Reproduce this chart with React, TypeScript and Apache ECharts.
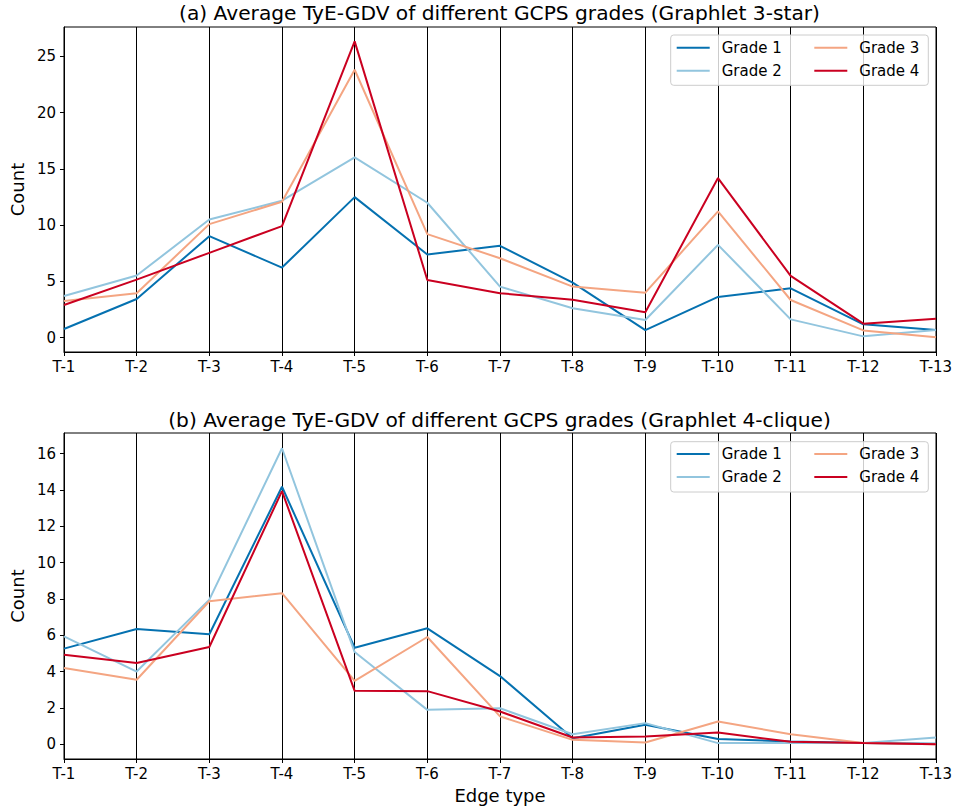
import React, { useEffect, useRef } from "react";
import * as echarts from "echarts";

const edgeTypes = ["T-1", "T-2", "T-3", "T-4", "T-5", "T-6", "T-7", "T-8", "T-9", "T-10", "T-11", "T-12", "T-13"];
const gradeNames = ["Grade 1", "Grade 2", "Grade 3", "Grade 4"];
const gradeColors = ["#0571b0", "#92c5de", "#f4a582", "#ca0020"];

// (a) Graphlet 3-star
const starGrade1 = [0.77, 3.44, 9.02, 6.23, 12.49, 7.39, 8.16, 4.9, 0.68, 3.62, 4.39, 1.19, 0.68];
const starGrade2 = [3.71, 5.52, 10.5, 12.17, 16.02, 11.99, 4.54, 2.61, 1.57, 8.25, 1.63, 0.12, 0.68];
const starGrade3 = [3.26, 3.95, 10.09, 12.08, 23.8, 9.2, 7.06, 4.54, 4.0, 11.22, 3.35, 0.65, 0.03];
const starGrade4 = [2.91, 5.16, 7.54, 9.91, 26.32, 5.13, 3.95, 3.38, 2.26, 14.18, 5.49, 1.25, 1.69];

// (b) Graphlet 4-clique
const cliqueGrade1 = [5.26, 6.34, 6.05, 14.17, 5.31, 6.38, 3.75, 0.33, 1.07, 0.29, 0.15, 0.06, 0.02];
const cliqueGrade2 = [5.94, 4.0, 7.96, 16.29, 5.07, 1.89, 1.98, 0.55, 1.16, 0.06, 0.06, 0.06, 0.37];
const cliqueGrade3 = [4.19, 3.55, 7.87, 8.31, 3.49, 5.9, 1.53, 0.24, 0.09, 1.25, 0.55, 0.06, 0.0];
const cliqueGrade4 = [4.93, 4.47, 5.35, 13.93, 2.94, 2.92, 1.8, 0.37, 0.42, 0.64, 0.13, 0.06, 0.0];

const starTicks = [0, 5, 10, 15, 20, 25];
const cliqueTicks = [0, 2, 4, 6, 8, 10, 12, 14, 16];

const titleA = "(a) Average TyE-GDV of different GCPS grades (Graphlet 3-star)";
const titleB = "(b) Average TyE-GDV of different GCPS grades (Graphlet 4-clique)";

const FONT = "DejaVu Sans";

export default function App() {
  const ref = useRef<HTMLDivElement>(null);
  useEffect(() => {
    if (!ref.current) return;
    const chart = echarts.init(ref.current, null, { renderer: "svg" });
    const starData = [starGrade1, starGrade2, starGrade3, starGrade4];
    const cliqueData = [cliqueGrade1, cliqueGrade2, cliqueGrade3, cliqueGrade4];

    const grids = [
      { left: 61, right: 22, top: 27, height: 325 },
      { left: 61, right: 22, top: 433, height: 326 },
    ];

    const makeX = (gi: number, withName: boolean) => ({
      type: "category",
      gridIndex: gi,
      data: edgeTypes,
      boundaryGap: false,
      axisLine: { show: true, onZero: false, lineStyle: { color: "#000", width: 1 } },
      axisTick: { show: true, length: 4, alignWithLabel: true, interval: 0, lineStyle: { color: "#000" } },
      axisLabel: { interval: 0, color: "#000", fontSize: 15, fontFamily: FONT, margin: 7 },
      splitLine: { show: true, interval: 0, lineStyle: { color: "#000", width: 1 } },
      name: withName ? "Edge type" : "",
      nameLocation: "middle",
      nameGap: 27,
      nameTextStyle: { color: "#000", fontSize: 18, fontFamily: FONT, verticalAlign: "top" },
    });

    const makeY = (gi: number, min: number, max: number, ticks: number[]) => ({
      type: "value",
      gridIndex: gi,
      min,
      max,
      axisLine: { show: true, onZero: false, lineStyle: { color: "#000", width: 1 } },
      axisTick: { show: true, length: 4, customValues: ticks, lineStyle: { color: "#000" } },
      axisLabel: { color: "#000", fontSize: 15, fontFamily: FONT, margin: 8, customValues: ticks },
      splitLine: { show: false },
      name: "Count",
      nameLocation: "middle",
      nameGap: 35,
      nameRotate: 90,
      nameTextStyle: { color: "#000", fontSize: 18, fontFamily: FONT },
    });

    const series: any[] = [];
    [starData, cliqueData].forEach((set, gi) => {
      set.forEach((vals, i) => {
        series.push({
          type: "line",
          name: gradeNames[i],
          xAxisIndex: gi,
          yAxisIndex: gi,
          data: vals,
          symbol: "none",
          lineStyle: { color: gradeColors[i], width: 2 },
          itemStyle: { color: gradeColors[i] },
          z: 2,
        });
      });
    });

    const legendRowsTop = [47.7, 454];
    const legendCols = [676.7, 814.3];
    const legends: any[] = [];
    legendRowsTop.forEach((rowCenter) => {
      [0, 1].forEach((c) => {
        legends.push({
          orient: "vertical",
          left: legendCols[c],
          top: rowCenter - 9,
          padding: 0,
          itemGap: 5,
          itemWidth: 33,
          itemHeight: 2,
          icon: "rect",
          selectedMode: false,
          data: [gradeNames[c * 2], gradeNames[c * 2 + 1]],
          textStyle: { color: "#000", fontSize: 15, fontFamily: FONT, padding: [0, 0, 0, 7], lineHeight: 18 },
          z: 10,
        });
      });
    });

    const boxes = [
      { y: 35, h: 50.3 },
      { y: 441.7, h: 50.3 },
    ];

    const titleStyle = { color: "#000", fontSize: 20.2, fontWeight: "normal", fontFamily: FONT };

    chart.setOption({
      animation: false,
      backgroundColor: "#fff",
      title: [
        { text: titleA, left: 499.5, top: 3, padding: 0, textAlign: "center", textStyle: titleStyle },
        { text: titleB, left: 499.5, top: 409.5, padding: 0, textAlign: "center", textStyle: titleStyle },
      ],
      grid: grids.map((g) => ({ ...g, show: true, borderColor: "#000", borderWidth: 1, backgroundColor: "transparent" })),
      xAxis: [makeX(0, false), makeX(1, true)],
      yAxis: [makeY(0, -1.27, 27.6, starTicks), makeY(1, -0.815, 17.13, cliqueTicks)],
      legend: legends,
      series,
      graphic: boxes.map((b) => ({
        type: "rect",
        z: 5,
        shape: { x: 670.7, y: b.y, width: 257.6, height: b.h, r: 3 },
        style: { fill: "rgba(255,255,255,0.8)", stroke: "#cccccc", lineWidth: 1 },
      })),
    });
    return () => chart.dispose();
  }, []);
  return <div ref={ref} style={{ position: "fixed", left: 0, top: 0, width: 958, height: 808 }} />;
}
